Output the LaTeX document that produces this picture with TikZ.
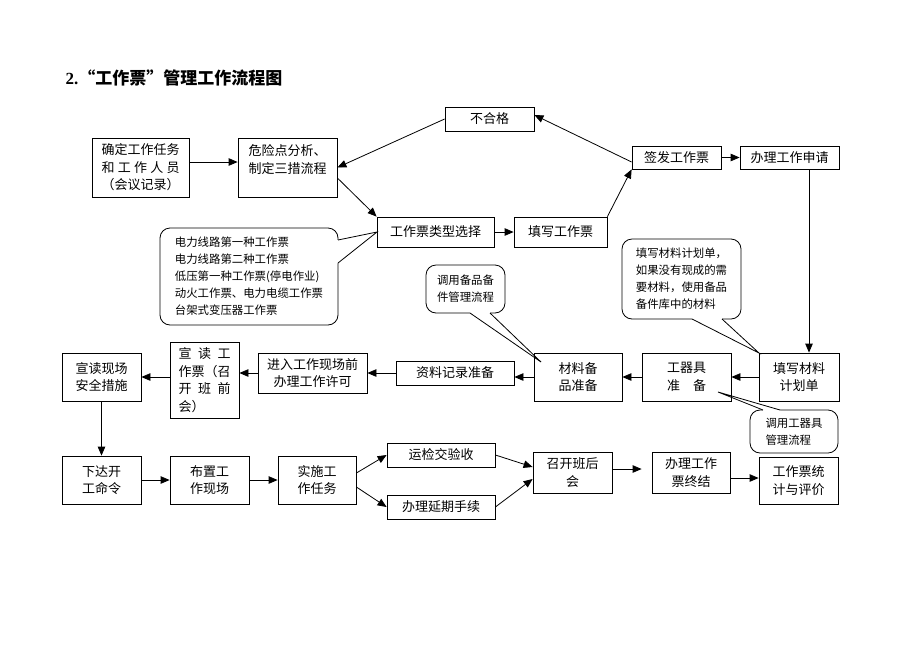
\documentclass[tikz,border=0pt]{standalone}
\usepackage{fontspec}
\setmainfont{Noto Sans CJK SC}
\newfontfamily\titlelatin{Liberation Serif}
\usetikzlibrary{arrows.meta}

\tikzset{
  box/.style={draw, line width=0.8pt, inner sep=0pt, align=center, font=\fontsize{13}{17.5}\selectfont},
  bubble/.style={draw, line width=0.8pt, rounded corners=10pt, inner sep=0pt, align=left, font=\fontsize{11.4}{17}\selectfont},
  sz/.style 2 args={minimum width=#1pt, minimum height=#2pt},
  arr/.style={-{Triangle[length=9pt,width=7.5pt]}, line width=0.8pt},
  tail/.style={line width=0.8pt}
}

\begin{document}
\begin{tikzpicture}[x=1pt,y=-1pt]
  \useasboundingbox (0,0) rectangle (920,651);
  \node[anchor=west, font=\fontsize{17}{20}\selectfont\bfseries] (title) at (62,78) {{\titlelatin 2.}“工作票”管理工作流程图};

  \node[bubble, sz={178}{97}] (types) at (249,276.5) {电力线路第一种工作票\\电力线路第二种工作票\\低压第一种工作票(停电作业)\\动火工作票、电力电缆工作票\\台架式变压器工作票};
  \node[bubble, sz={79}{48}] (spare) at (465.5,289) {调用备品备\\件管理流程};
  \node[bubble, sz={119}{80}] (plannote) at (681.5,279) {填写材料计划单，\\如果没有现成的需\\要材料，使用备品\\备件库中的材料};
  \node[bubble, sz={88}{43}] (toolnote) at (794,431.5) {调用工器具\\管理流程};
  \fill[white] (336.8,240) -- (338,240) -- (377,232) -- (338,263) -- (336.8,263) -- cycle;
  \draw[tail] (338,240) -- (377,232) -- (338,263);
  \fill[white] (470,311.8) -- (470,313) -- (541,362) -- (490,313) -- (490,311.8) -- cycle;
  \draw[tail] (470,313) -- (541,362) -- (490,313);
  \fill[white] (692,317.8) -- (692,319) -- (759,353) -- (722,319) -- (722,317.8) -- cycle;
  \draw[tail] (692,319) -- (759,353) -- (722,319);
  \fill[white] (763,411.2) -- (763,410) -- (718,392) -- (780,410) -- (780,411.2) -- cycle;
  \draw[tail] (763,410) -- (718,392) -- (780,410);

  \node[box, sz={97}{59}] (task) at (140.5,167.5) {确定工作任务\\\makebox[6em][s]{和\hfil 工\hfil 作\hfil 人\hfil 员}\\（会议记录）};
  \node[box, sz={99}{59}] (risk) at (287.5,167.5) {危险点分析、\\制定三措流程\\\mbox{}};
  \node[box, sz={89}{24}] (fail) at (489.5,119) {不合格};
  \node[box, sz={89}{23}] (sign) at (676.5,157.5) {签发工作票};
  \node[box, sz={99}{23}] (apply) at (789.5,157.5) {办理工作申请};
  \node[box, sz={117}{30}] (type) at (435.5,232) {工作票类型选择};
  \node[box, sz={93}{30}] (write) at (560.5,232) {填写工作票};
  \node[box, sz={88}{48}] (matl) at (578,377) {材料备\\品准备};
  \node[box, sz={89}{48}] (tool) at (686.5,377) {工器具\\\makebox[3em][s]{准\hfil 备}};
  \node[box, sz={80}{48}] (plan) at (799,377) {填写材料\\计划单};
  \node[box, sz={118}{24}] (rec) at (455,373) {资料记录准备};
  \node[box, sz={109}{40}] (permit) at (312.5,373) {进入工作现场前\\办理工作许可};
  \node[box, sz={69}{76}] (read) at (204.5,380) {\makebox[4em][s]{宣\hfil 读\hfil 工}\\作票（召\\\makebox[4em][s]{开\hfil 班\hfil 前}\\\makebox[4em][l]{会）}};
  \node[box, sz={79}{48}] (safe) at (101.5,377) {宣读现场\\安全措施};
  \node[box, sz={79}{48}] (start) at (101.5,480) {下达开\\工命令};
  \node[box, sz={79}{48}] (site) at (209.5,480) {布置工\\作现场};
  \node[box, sz={78}{48}] (work) at (317,480) {实施工\\作任务};
  \node[box, sz={108}{24}] (check) at (441,455) {运检交验收};
  \node[box, sz={108}{24}] (delay) at (441,507) {办理延期手续};
  \node[box, sz={79}{41}] (meet) at (572.5,472.5) {召开班后\\会};
  \node[box, sz={78}{41}] (close) at (691,472.5) {办理工作\\票终结};
  \node[box, sz={79}{47}] (stat) at (798.5,480.5) {工作票统\\计与评价};

  \draw[arr] ([yshift=5.5pt]task.east) -- ([yshift=5.5pt]risk.west);
  \draw[arr] ([yshift=-10.5pt]risk.east) -- (type.north west);
  \draw[arr] (fail.west) -- (risk.east);
  \draw[arr] ([yshift=-4.5pt]sign.west) -- ([yshift=4pt]fail.east);
  \draw[arr] (write.north east) -- (sign.south west);
  \draw[arr] (sign.east) -- (apply.west);
  \draw[arr] ([xshift=19.5pt]apply.south) -- ([xshift=19.5pt]apply.south |- plan.north);
  \draw[arr] (type.east) -- (write.west);
  \draw[arr] (plan.west) -- (tool.east);
  \draw[arr] (tool.west) -- (matl.east);
  \draw[arr] (matl.west) -- (matl.west -| rec.east);
  \draw[arr] (rec.west) -- (permit.east);
  \draw[arr] (permit.west) -- (permit.west -| read.east);
  \draw[arr] (read.west |- safe.east) -- (safe.east);
  \draw[arr] (safe.south) -- (start.north);
  \draw[arr] (start.east) -- (site.west);
  \draw[arr] (site.east) -- (work.west);
  \draw[arr] ([yshift=7pt]work.east) -- (check.west);
  \draw[arr] ([yshift=-7pt]work.east) -- (delay.west);
  \draw[arr] (check.east) -- ([yshift=5.5pt]meet.west);
  \draw[arr] (delay.east) -- ([yshift=-6.5pt]meet.west);
  \draw[arr, shorten >=10pt] ([yshift=3.5pt]meet.east) -- ([yshift=3.5pt]close.west);
  \draw[arr] ([yshift=-5.5pt]close.east) -- ([yshift=-5.5pt]close.east -| stat.west);
\end{tikzpicture}
\end{document}
